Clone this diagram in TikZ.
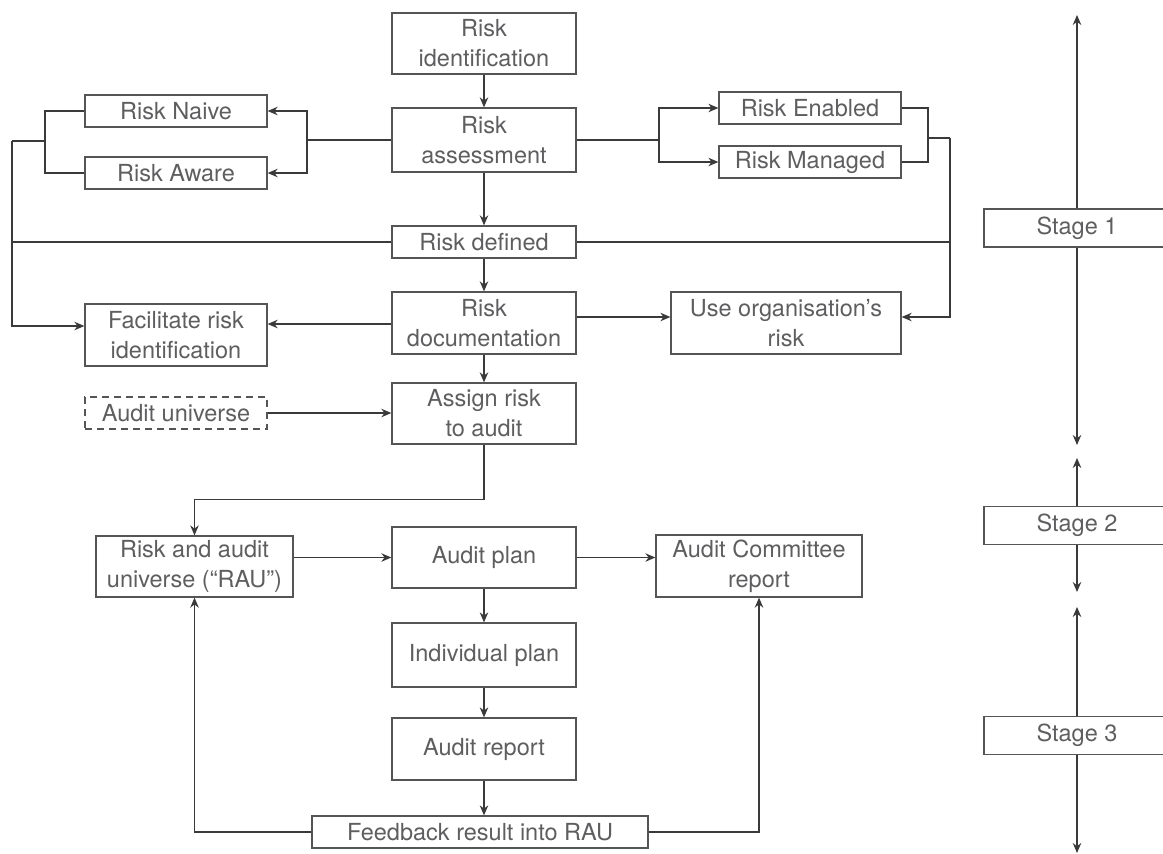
\documentclass[tikz,border=0pt]{standalone}
\usepackage{fontspec}
\setmainfont{TeX Gyre Heros}
\usetikzlibrary{arrows.meta,calc}
\definecolor{linec}{HTML}{3A3A3A}
\definecolor{boxc}{HTML}{555555}
\definecolor{textc}{HTML}{5E5E60}
\begin{document}
\begin{tikzpicture}[x=1pt,y=-1pt,
  box/.style={draw=boxc, line width=1.3pt, text=textc, align=center, inner sep=0pt,
    font=\fontsize{23.5}{30}\selectfont},
  conn/.style={draw=linec, line width=1.3pt},
  arr/.style={conn, -{Stealth[length=10pt,width=8.5pt]}}]
\useasboundingbox (0,0) rectangle (1163,854);
% main column
\node[box, minimum width=184, minimum height=61] (rid) at (484,43.5) {Risk\\identification};
\node[box, minimum width=184, minimum height=64] (rass) at (484,140) {Risk\\assessment};
\node[box, minimum width=184, minimum height=32] (rdef) at (484,242) {Risk defined};
\node[box, minimum width=184, minimum height=62] (rdoc) at (484,323) {Risk\\documentation};
\node[box, minimum width=184, minimum height=61] (assign) at (484,413.5) {Assign risk\\to audit};
\node[box, minimum width=184, minimum height=61] (aplan) at (484,557.5) {Audit plan};
\node[box, minimum width=184, minimum height=64] (iplan) at (484,655) {Individual plan};
\node[box, minimum width=184, minimum height=62] (arep) at (484,749) {Audit report};
\node[box, minimum width=336, minimum height=32] (feed) at (480,832) {Feedback result into RAU};
% left side
\node[box, minimum width=182, minimum height=32] (naive) at (176,111) {Risk Naive};
\node[box, minimum width=182, minimum height=32] (aware) at (176,173) {Risk Aware};
\node[box, minimum width=182, minimum height=62] (facil) at (176,335) {Facilitate risk\\identification};
\node[box, dashed, dash pattern=on 7pt off 5pt, minimum width=182, minimum height=32] (univ) at (176,413) {Audit universe};
\node[box, minimum width=197, minimum height=61] (rau) at (194.5,566.5) {Risk and audit\\universe (“RAU”)};
% right side
\node[box, minimum width=182, minimum height=32] (enabled) at (810,108) {Risk Enabled};
\node[box, minimum width=182, minimum height=32] (managed) at (810,162) {Risk Managed};
\node[box, minimum width=230, minimum height=62] (useorg) at (786,323) {Use organisation’s\\risk};
\node[box, minimum width=206, minimum height=62] (acr) at (759,566) {Audit Committee\\report};
% stages
\node[box, minimum width=186, minimum height=38] (st1) at (1077,228) {Stage 1};
\node[box, minimum width=186, minimum height=38] (st2) at (1077,525.5) {Stage 2};
\node[box, minimum width=186, minimum height=38] (st3) at (1077,735.5) {Stage 3};
% junction coordinates
\coordinate (jl) at (307,140);
\coordinate (jl2) at (45,141);
\coordinate (jl3) at (12,141);
\coordinate (jr) at (659,140);
\coordinate (jr2) at (928,138);
\coordinate (jr3) at (950,138);
\coordinate (s1t) at (1077,15);
\coordinate (s1b) at (1077,445);
\coordinate (s2t) at (1077,458);
\coordinate (s2b) at (1077,592);
\coordinate (s3t) at (1077,607);
\coordinate (s3b) at (1077,853);
% main vertical flow
\draw[arr] (rid.south) -- (rass.north);
\draw[arr] (rass.south) -- (rdef.north);
\draw[arr] (rdef.south) -- (rdoc.north);
\draw[arr] (rdoc.south) -- (assign.north);
\draw[arr] (aplan.south) -- (iplan.north);
\draw[arr] (iplan.south) -- (arep.north);
\draw[arr] (arep.south) -- (arep.south |- feed.north);
% left branch
\draw[conn] (rass.west) -- (jl);
\draw[arr] (jl) |- (naive.east);
\draw[arr] (jl) |- (aware.east);
\draw[conn] (naive.west) -| (jl2);
\draw[conn] (aware.west) -| (jl2);
\draw[conn] (jl2) -- (jl3);
\draw[arr] (jl3) |- ($(facil.west)+(0,-9)$);
\draw[conn] (rdef.west) -- (rdef.west -| jl3);
% right branch
\draw[conn] (rass.east) -- (jr);
\draw[arr] (jr) |- (enabled.west);
\draw[arr] (jr) |- (managed.west);
\draw[conn] (enabled.east) -| (jr2);
\draw[conn] (managed.east) -| (jr2);
\draw[conn] (jr2) -- (jr3);
\draw[arr] (jr3) |- ($(useorg.east)+(0,-6)$);
\draw[conn] (rdef.east) -- (rdef.east -| jr3);
% documentation
\draw[arr] ($(rdoc.west)+(0,1)$) -- ($(facil.east)+(0,-11)$);
\draw[arr] ($(rdoc.east)+(0,-6)$) -- ($(useorg.west)+(0,-6)$);
% audit universe
\draw[arr] (univ.east) -- (univ.east -| assign.west);
\draw[arr] (assign.south) -- ++(0,55) -| (rau.north);
\draw[arr] (aplan.west -| rau.east) -- (aplan.west);
\draw[arr] (aplan.east) -- (aplan.east -| acr.west);
\draw[arr] (feed.west) -| (rau.south);
\draw[arr] (feed.east) -| (acr.south);
% stages
\draw[arr] (st1.north) -- (s1t);
\draw[arr] (st1.south) -- (s1b);
\draw[arr] (st2.north) -- (s2t);
\draw[arr] (st2.south) -- (s2b);
\draw[arr] (st3.north) -- (s3t);
\draw[arr] (st3.south) -- (s3b);
\end{tikzpicture}
\end{document}
